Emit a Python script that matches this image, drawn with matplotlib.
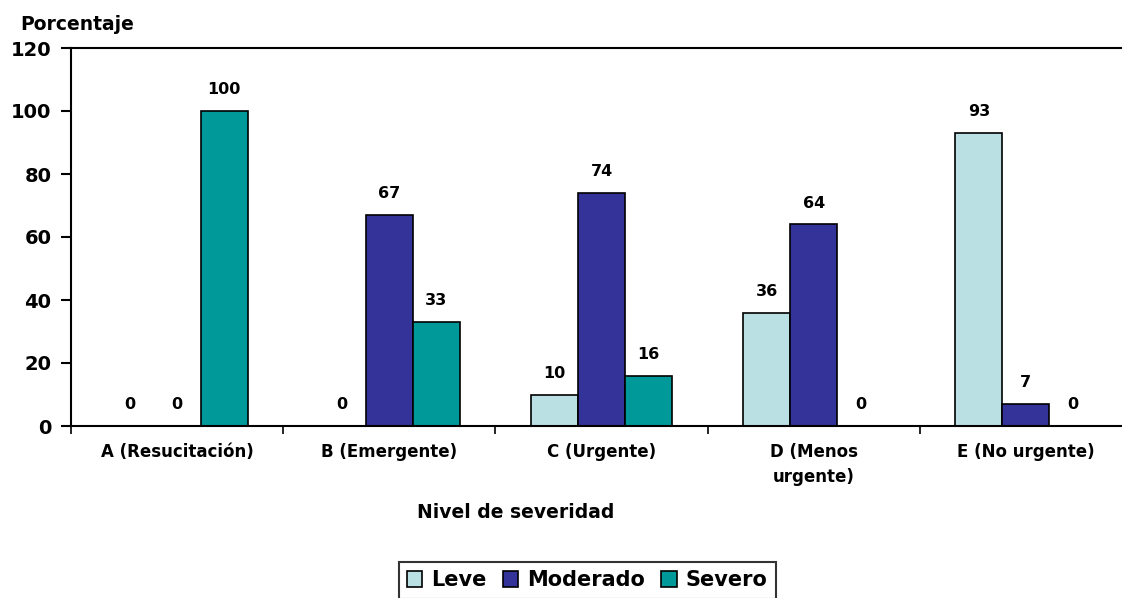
import numpy as np
import matplotlib.pyplot as plt
from matplotlib.patches import Patch

plt.rcParams['font.family'] = ['DejaVu Sans']
plt.rcParams['font.weight'] = 'bold'

# ===================== 数据 =====================
categorias = ['A (Resucitación)', 'B (Emergente)', 'C (Urgente)', 'D (Menos\nurgente)', 'E (No urgente)']
leve = [0, 0, 10, 36, 93]
moderado = [0, 67, 74, 64, 7]
severo = [100, 33, 16, 0, 0]
series = ['Leve', 'Moderado', 'Severo']
colores = ['#BBE0E3', '#333399', '#009999']

# ===================== 画布 =====================
W, H = 1122, 598
fig = plt.figure(figsize=(W / 100, H / 100), dpi=100)
ax = fig.add_axes([71 / W, (H - 426) / H, (1132 - 71) / W, (426 - 48) / H])

x = np.arange(len(categorias))
ancho = 0.222
for i, (vals, color) in enumerate(zip([leve, moderado, severo], colores)):
    pos = x + (i - 1) * ancho
    ax.bar(pos, vals, width=ancho, color=color, edgecolor='black', linewidth=1.2)
    for p, v in zip(pos, vals):
        ax.annotate(f'{v}', (p, v), xytext=(0, 10), textcoords='offset points',
                    ha='center', va='bottom', fontsize=11.5, fontweight='bold')

ax.set_xlim(-0.5, len(categorias) - 0.5)
ax.set_ylim(0, 120)
ax.set_yticks(range(0, 121, 20))
ax.tick_params(axis='y', labelsize=14, length=7, width=1.5, direction='out', pad=7)

# 刻度在类别边界，标签在中心
ax.set_xticks(np.arange(-0.5, len(categorias), 1))
ax.set_xticklabels([])
ax.set_xticks(x, minor=True)
ax.set_xticklabels(categorias, minor=True, fontsize=12, fontweight='bold', linespacing=1.55)
ax.tick_params(axis='x', which='major', length=6, width=1.2, direction='out')
ax.tick_params(axis='x', which='minor', length=0, pad=12)

for s in ['left', 'bottom', 'top']:
    ax.spines[s].set_linewidth(1.5)
ax.spines['right'].set_visible(False)

fig.text(20 / W, 1 - 25 / H, 'Porcentaje', fontsize=13.5, fontweight='bold', va='center', ha='left')
fig.text(516 / W, 1 - 512 / H, 'Nivel de severidad', fontsize=13.5, fontweight='bold', va='center', ha='center')

handles = [Patch(facecolor=c, edgecolor='black', linewidth=1.2, label=s) for s, c in zip(series, colores)]
leg = fig.legend(handles=handles, loc='upper center', bbox_to_anchor=(587 / W, 1 - 562 / H), ncol=3,
                 frameon=True, fancybox=False, edgecolor='black', fontsize=15,
                 handlelength=0.75, handleheight=0.75, handletextpad=0.4, columnspacing=0.8,
                 borderpad=0.4, borderaxespad=0)
leg.get_frame().set_linewidth(1.5)
for t in leg.get_texts():
    t.set_fontweight('bold')

fig.savefig('out.png', dpi=100)
